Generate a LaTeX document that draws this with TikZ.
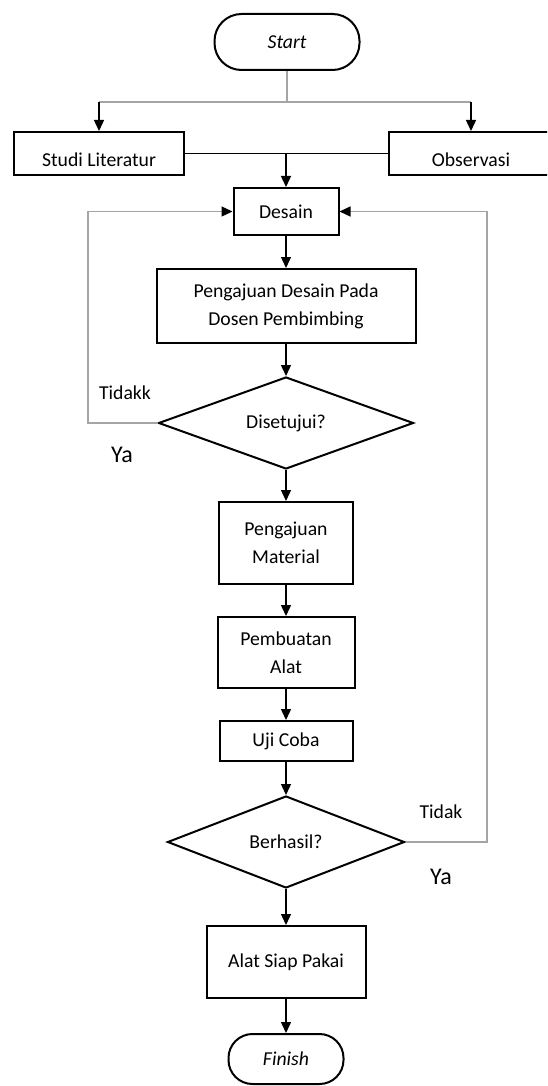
\documentclass[tikz,border=0pt]{standalone}
\usepackage{fontspec}
\setmainfont{Carlito}
\usetikzlibrary{arrows.meta,shapes.geometric}
\definecolor{loopgray}{RGB}{165,165,165}
\begin{document}
\begin{tikzpicture}[x=1pt,y=-1pt,
  every node/.style={font=\fontsize{19.7}{28}\selectfont, text=black},
  box/.style={draw, line width=2pt, rectangle, inner sep=0pt, align=center},
  term/.style={draw, line width=2pt, rectangle, rounded corners=27pt, inner sep=0pt, font=\fontsize{19.7}{28}\selectfont\itshape},
  dec/.style={draw, line width=2pt, diamond, inner sep=0pt, aspect=2.7},
  conn/.style={line width=1.4pt, -{Triangle[length=11pt,width=10pt]}},
  plain/.style={line width=1.4pt},
  loopline/.style={line width=1.3pt, loopgray},
  looparrow/.style={line width=1.3pt, loopgray, -{Triangle[length=11pt,width=10pt,color=black]}},
  lab/.style={inner sep=0pt},
  biglab/.style={inner sep=0pt, font=\fontsize{24}{28}\selectfont}
]
\clip (0,0) rectangle (547,1086);
\path[use as bounding box] (0,0) rectangle (547,1086);

% nodes
\node[term, minimum width=145pt, minimum height=56pt] (start) at (287,42) {Start};
\node[box, minimum width=170pt, minimum height=43pt, text height=30pt, text depth=4pt] (studi) at (99,153.5) {Studi Literatur};
\node[box, minimum width=164pt, minimum height=43pt, text height=30pt, text depth=4pt] (obs) at (471,153.5) {Observasi};
\node[box, minimum width=105pt, minimum height=47pt] (desain) at (286,211.5) {Desain};
\node[box, minimum width=259pt, minimum height=74pt] (aju) at (286,306) {Pengajuan Desain Pada\\Dosen Pembimbing};
\node[dec, minimum width=255pt, minimum height=92pt] (setuju) at (286,423) {Disetujui?};
\node[box, minimum width=134pt, minimum height=82pt] (mat) at (286,543) {Pengajuan\\Material};
\node[box, minimum width=137pt, minimum height=71pt] (buat) at (286,652.5) {Pembuatan\\Alat};
\node[box, minimum width=133pt, minimum height=40pt] (uji) at (286,741) {Uji Coba};
\node[dec, minimum width=237pt, minimum height=92pt] (hasil) at (286,842) {Berhasil?};
\node[box, minimum width=159pt, minimum height=72pt] (siap) at (286,962) {Alat Siap Pakai};
\node[term, minimum width=115pt, minimum height=50pt, rounded corners=24pt] (finish) at (286,1059) {Finish};

% labels
\node[lab] (t1) at (125,393) {Tidakk};
\node[biglab] (y1) at (122,455) {Ya};
\node[lab] (t2) at (441,812) {Tidak};
\node[biglab] (y2) at (441,877) {Ya};

% split from start
\coordinate (jn) at (287,102);
\draw[loopline] (start.south) -- (jn);
\draw[loopline] (studi.north |- jn) -- (obs.north |- jn);
\draw[conn] (studi.north |- jn) -- (studi.north);
\draw[conn] (obs.north |- jn) -- (obs.north);

% join into desain
\draw[plain] (studi.east) -- (obs.west);
\draw[conn] (studi.east -| desain.north) -- (desain.north);

% main column
\draw[conn] (desain.south) -- (aju.north);
\draw[conn] (aju.south) -- (setuju.north);
\draw[conn] (setuju.south) -- (mat.north);
\draw[conn] (mat.south) -- (buat.north);
\draw[conn] (buat.south) -- (uji.north);
\draw[conn] (uji.south) -- (hasil.north);
\draw[conn] (hasil.south) -- (siap.north);
\draw[conn] (siap.south) -- (finish.north);

% loops
\coordinate (lc) at (88,423);
\coordinate (rc) at (487,842);
\draw[looparrow] (setuju.west) -- (lc) |- (desain.west);
\draw[looparrow] (hasil.east) -- (rc) |- (desain.east);
\end{tikzpicture}
\end{document}
